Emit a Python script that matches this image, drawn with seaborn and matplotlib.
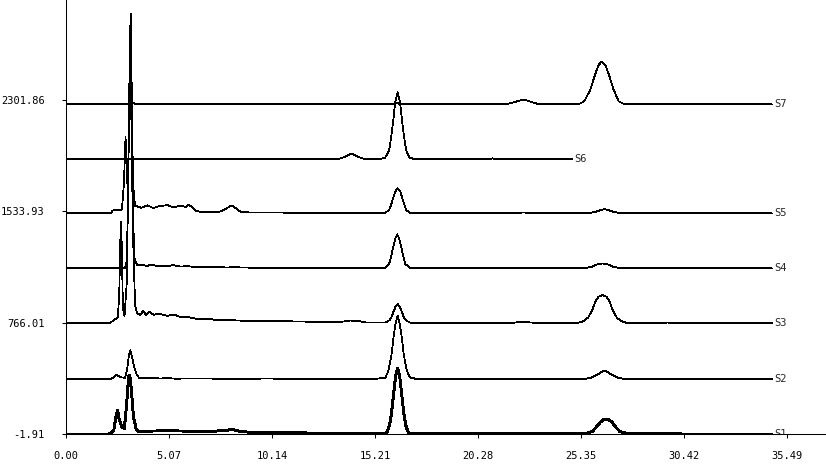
import numpy as np
import pandas as pd
import matplotlib
matplotlib.use("Agg")
import matplotlib.pyplot as plt
import seaborn as sns

sns.set_theme(style="ticks")
plt.rcParams['font.family'] = ['DejaVu Sans Mono']

# 样品名称与基线偏移
names = ['S1', 'S2', 'S3', 'S4', 'S5', 'S6', 'S7']
offsets = [-1.91, 378, 764, 1142, 1521, 1895, 2272]

# 各样品色谱数据 (时间 min, 相对响应)
t_s1 = [0, 2.10, 2.35, 2.45, 2.54, 2.62, 2.75, 2.87, 2.98, 3.08, 3.14, 3.22, 3.32, 3.45, 3.55,
        4.0, 5.0, 6.0, 7.0, 7.8, 8.2, 8.6, 9.5, 11, 13, 14.5, 15.4,
        15.72, 15.82, 15.92, 16.02, 16.12, 16.22, 16.32, 16.42, 16.52, 16.62, 16.72, 16.82, 16.92,
        17.2, 20, 24, 25.6, 25.9, 26.1, 26.3, 26.45, 26.58, 26.71, 26.86, 27.05, 27.25, 27.6, 28.8, 34.73]
v_s1 = [0, 0, 25, 120, 166, 100, 50, 40, 200, 400, 407, 300, 120, 40, 18,
        22, 24, 22, 20, 25, 34, 18, 12, 10, 8, 6, 5,
        5, 20, 62, 147, 277, 401, 455, 401, 277, 147, 62, 20, 5,
        3, 3, 3, 5, 20, 50, 85, 100, 103, 100, 85, 50, 20, 5, 3, 0]

t_s2 = [0, 2.15, 2.3, 2.48, 2.6, 2.75, 2.9, 3.0, 3.1, 3.17, 3.25, 3.35, 3.45, 3.6,
        4.0, 4.3, 4.6, 5.0, 5.4, 6.0, 8.0, 10, 12, 15.2,
        15.72, 15.87, 16.02, 16.12, 16.22, 16.32, 16.42, 16.52, 16.62, 16.77, 16.92,
        17.2, 20, 25.5, 25.8, 26.0, 26.2, 26.35, 26.5, 26.65, 26.8, 27.0, 27.2, 27.5, 28.0, 34.73]
v_s2 = [0, 0, 8, 32, 20, 12, 10, 60, 170, 200, 150, 90, 40, 8,
        5, 10, 4, 8, 3, 5, 3, 4, 2, 2,
        10, 60, 170, 290, 385, 436, 385, 290, 170, 60, 12,
        3, 2, 2, 8, 20, 36, 50, 57, 50, 36, 20, 8, 2, 1, 0]

t_s3 = [0, 2.15, 2.4, 2.55, 2.62, 2.68, 2.71, 2.75, 2.8, 2.88, 3.0, 3.1, 3.18, 3.22, 3.3, 3.4,
        3.5, 3.65, 3.8, 3.95, 4.1, 4.3, 4.6, 5.0, 5.3, 5.6, 6.0, 6.5, 7.0, 7.5, 8.0, 9.0, 10.5,
        12, 13, 13.6, 14.0, 14.4, 14.8, 15.4,
        15.72, 15.92, 16.02, 16.12, 16.22, 16.32, 16.42, 16.52, 16.62, 16.72, 16.92,
        17.2, 21.5, 22.0, 22.5, 23.0, 23.5, 25.2, 25.5, 25.7, 25.9, 26.05, 26.2, 26.4,
        26.6, 26.75, 26.9, 27.1, 27.3, 27.6, 28.5, 29.4, 29.6, 29.8, 34.73]
v_s3 = [0, 0, 25, 40, 200, 600, 697, 500, 100, 50, 300, 1500, 2131, 1800, 600, 120,
        70, 55, 85, 55, 80, 58, 64, 50, 60, 44, 42, 28, 30, 20, 22, 14, 14,
        10, 6, 10, 18, 14, 4, 4,
        4, 20, 42, 80, 115, 131, 115, 80, 42, 20, 4,
        0, 0, 3, 10, 3, 0, 2, 15, 40, 90, 150, 182, 193,
        182, 150, 90, 40, 15, 2, 0, 0, 5, 0, 0]

t_s4 = [0, 2.9, 3.0, 3.08, 3.15, 3.2, 3.28, 3.38, 3.5, 3.7, 4.0, 4.2, 4.5, 5.0, 5.3, 5.6,
        6.0, 6.4, 7.0, 8.0, 8.3, 8.6, 10, 12, 15.5,
        15.7, 15.9, 16.0, 16.1, 16.2, 16.3, 16.4, 16.5, 16.6, 16.7, 16.9,
        17.2, 25.6, 25.9, 26.1, 26.4, 26.7, 26.9, 27.2, 28.0, 34.73]
v_s4 = [0, 0, 60, 800, 1594, 1200, 400, 60, 22, 25, 16, 26, 16, 16, 22, 12,
        15, 8, 8, 6, 10, 5, 4, 2, 2,
        4, 30, 80, 145, 205, 234, 205, 145, 80, 30, 4,
        0, 2, 12, 25, 34, 25, 12, 2, 0, 0]

t_s5 = [0, 2.2, 2.3, 2.6, 2.75, 2.85, 2.93, 2.98, 3.05, 3.1, 3.17, 3.22, 3.3, 3.4,
        3.5, 3.7, 4.0, 4.3, 4.6, 5.0, 5.3, 5.6, 5.9, 6.0, 6.2, 6.4, 6.8, 7.5, 7.8, 8.15,
        8.4, 8.6, 9.0, 10.5, 12, 15.5,
        15.7, 15.9, 16.0, 16.1, 16.2, 16.32, 16.45, 16.55, 16.65, 16.75, 16.95,
        17.2, 22.0, 22.5, 23.0, 25.8, 26.1, 26.3, 26.5, 26.7, 26.9, 27.2, 28.0, 34.73]
v_s5 = [0, 0, 20, 22, 25, 200, 526, 350, 100, 600, 1312, 900, 200, 50,
        48, 38, 55, 36, 50, 56, 40, 52, 44, 58, 46, 15, 8, 8, 25, 55,
        30, 10, 6, 5, 3, 2,
        3, 22, 60, 105, 150, 172, 150, 105, 60, 22, 3,
        0, 0, 6, 0, 2, 12, 22, 28, 22, 12, 2, 0, 0]

t_s6 = [0, 13.0, 13.5, 13.8, 14.06, 14.3, 14.6, 15.0, 15.5,
        15.7, 15.9, 16.0, 16.1, 16.2, 16.32, 16.44, 16.54, 16.64, 16.74, 16.9, 17.1,
        18, 20.9, 21.0, 21.1, 24.9]
v_s6 = [0, 0, 3, 20, 39, 20, 3, 0, 2,
        8, 60, 150, 260, 390, 460, 390, 260, 150, 60, 10, 2,
        0, 0, 5, 0, 0]

t_s7 = [0, 3.1, 3.15, 3.35, 3.4, 16.1, 16.32, 16.5, 21.6, 22.0, 22.5, 23.0, 23.3,
        25.2, 25.5, 25.8, 26.0, 26.2, 26.36, 26.55, 26.75, 26.95, 27.2, 27.5, 34.73]
v_s7 = [0, 0, 12, 12, 0, 0, 8, 0, 0, 12, 34, 12, 0,
        0, 20, 100, 190, 270, 294, 270, 190, 100, 20, 0, 0]

times = [t_s1, t_s2, t_s3, t_s4, t_s5, t_s6, t_s7]
values = [v_s1, v_s2, v_s3, v_s4, v_s5, v_s6, v_s7]

x_ticks = [0.00, 5.07, 10.14, 15.21, 20.28, 25.35, 30.42, 35.49]
y_ticks = [-1.91, 766.01, 1533.93, 2301.86]

fig = plt.figure(figsize=(8.26, 4.75), dpi=100)
ax = fig.add_axes([66 / 826, 40.7 / 475, 760 / 826, 434.3 / 475])

for i, name in enumerate(names):
    df = pd.DataFrame({'time': times[i], 'signal': np.array(values[i]) + offsets[i]})
    sns.lineplot(data=df, x='time', y='signal', ax=ax, color='black',
                 linewidth=1.4 if name == 'S1' else 0.55,
                 estimator=None, sort=False, antialiased=False)
    ax.text(times[i][-1] + 0.12, offsets[i], name, fontsize=7.5,
            ha='left', va='center', clip_on=True)

ax.set_xlim(0, 37.4)
ax.set_ylim(-1.91, 2991)
ax.set_xticks(x_ticks)
ax.set_xticklabels([f'{v:.2f}' for v in x_ticks])
ax.set_yticks(y_ticks)
ax.set_yticklabels([f'{v:.2f}' for v in y_ticks])
ax.set_xlabel('')
ax.set_ylabel('')
ax.tick_params(axis='both', direction='out', length=3.2, width=0.75,
               labelsize=7.5, colors='black')
ax.tick_params(axis='x', pad=9)
ax.tick_params(axis='y', pad=12)
sns.despine(ax=ax)
for s in ['left', 'bottom']:
    ax.spines[s].set_linewidth(0.75)
    ax.spines[s].set_color('black')
ax.set_facecolor('white')

fig.savefig('out.png', dpi=100)
